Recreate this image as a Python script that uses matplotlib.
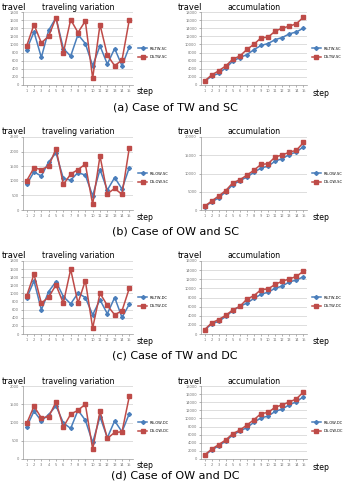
import matplotlib
matplotlib.use("Agg")
import matplotlib.pyplot as plt
import numpy as np

W, H = 349, 482

steps = list(range(1, 16))

# (a) TW and SC
var_a_rs = [875, 1309, 679, 1350, 1661, 900, 712, 1244, 1023, 475, 965, 515, 900, 475, 940]
var_a_ds = [965, 1489, 1039, 1203, 1661, 794, 1612, 1293, 1579, 164, 1489, 736, 475, 614, 1612]
acc_a_rs = [875, 2184, 2863, 4213, 5874, 6774, 7486, 8730, 9753, 10228, 11193, 11708, 12608, 13083, 14023]
acc_a_ds = [965, 2454, 3493, 4696, 6357, 7151, 8763, 10056, 11635, 11799, 13288, 14024, 14499, 15113, 16725]

# (b) OW and SC
var_b_rs = [875, 1306, 1159, 1647, 1954, 1079, 1022, 1284, 1193, 488, 1386, 682, 1113, 716, 1454]
var_b_ds = [1000, 1443, 1386, 1500, 2102, 875, 1227, 1386, 1568, 193, 1852, 557, 738, 534, 2136]
acc_b_rs = [875, 2181, 3340, 4987, 6941, 8020, 9042, 10326, 11519, 12007, 13393, 14075, 15188, 15904, 17358]
acc_b_ds = [1000, 2443, 3829, 5329, 7431, 8306, 9533, 10919, 12487, 12680, 14532, 15089, 15827, 16361, 18497]

# (c) TW and DC
var_c_rs = [883, 1309, 597, 1047, 1292, 924, 744, 1006, 900, 474, 842, 499, 900, 409, 736]
var_c_ds = [940, 1472, 761, 908, 1210, 761, 1595, 761, 1317, 147, 1006, 703, 474, 572, 1129]
acc_c_rs = [883, 2192, 2789, 3836, 5128, 6052, 6796, 7802, 8702, 9176, 10018, 10517, 11417, 11826, 12562]
acc_c_ds = [940, 2412, 3173, 4081, 5291, 6052, 7647, 8408, 9725, 9872, 10878, 11581, 12055, 12627, 13756]

# (d) OW and DC
var_d_rs = [882, 1309, 1045, 1218, 1454, 991, 836, 1336, 1063, 454, 1154, 582, 1045, 745, 1245]
var_d_ds = [973, 1445, 1127, 1154, 1563, 873, 1227, 1336, 1500, 273, 1309, 564, 727, 745, 1718]
acc_d_rs = [882, 2191, 3236, 4454, 5908, 6899, 7735, 9071, 10134, 10588, 11742, 12324, 13369, 14114, 15359]
acc_d_ds = [973, 2418, 3545, 4699, 6262, 7135, 8362, 9698, 11198, 11471, 12780, 13344, 14071, 14816, 16534]

cases = ["TW-SC", "OW-SC", "TW-DC", "OW-DC"]
captions = ["(a) Case of TW and SC", "(b) Case of OW and SC",
            "(c) Case of TW and DC", "(d) Case of OW and DC"]
var_rs = [var_a_rs, var_b_rs, var_c_rs, var_d_rs]
var_ds = [var_a_ds, var_b_ds, var_c_ds, var_d_ds]
acc_rs = [acc_a_rs, acc_b_rs, acc_c_rs, acc_d_rs]
acc_ds = [acc_a_ds, acc_b_ds, acc_c_ds, acc_d_ds]
var_ticks = [(1800, 200), (2500, 500), (1800, 200), (2000, 500)]
acc_ticks = [(18000, 2000), (20000, 5000), (16000, 2000), (18000, 2000)]

row_top = [12, 137, 261, 386]
cap_y = [107, 231, 355, 475]

blue = "#4a7ebb"
red = "#be4b48"


def box(l, t, r, b):
    return [l / W, 1 - b / H, (r - l) / W, (b - t) / H]


def ftext(x, y, s, **kw):
    fig.text(x / W, 1 - y / H, s, **kw)


def draw(ax, rs, ds, top, step, name):
    ax.plot(steps, rs, color=blue, lw=1.1, marker="D", ms=2.0, label="RS-" + name)
    ax.plot(steps, ds, color=red, lw=1.1, marker="s", ms=2.5, label="DS-" + name)
    ax.set_xlim(0.5, 15.5)
    ax.set_ylim(0, top)
    ax.set_yticks(np.arange(0, top + 1, step))
    ax.set_xticks(steps)
    ax.tick_params(labelsize=2.6, colors="#777777", length=1.5, width=0.4, pad=1.5)
    ax.grid(axis="y", color="#d0d0d0", lw=0.5)
    ax.set_axisbelow(True)
    for s in ["top", "right"]:
        ax.spines[s].set_visible(False)
    for s in ["left", "bottom"]:
        ax.spines[s].set_color("#999999")
        ax.spines[s].set_linewidth(0.5)
    ax.legend(loc="center left", bbox_to_anchor=(1.03, 0.44), fontsize=2.6,
              frameon=False, handlelength=2.5, labelspacing=1.2, borderpad=0)


fig = plt.figure(figsize=(W / 100, H / 100), dpi=100)

for i in range(4):
    t = row_top[i]
    b = t + 73
    axl = fig.add_axes(box(23, t, 133, b))
    draw(axl, var_rs[i], var_ds[i], var_ticks[i][0], var_ticks[i][1], cases[i])
    axr = fig.add_axes(box(201, t, 307, b))
    draw(axr, acc_rs[i], acc_ds[i], acc_ticks[i][0], acc_ticks[i][1], cases[i])

    ftext(2, t - 5, "travel", fontsize=6, ha="left", va="center")
    ftext(78, t - 5, "traveling variation", fontsize=5.6, ha="center", va="center")
    ftext(178, t - 5, "travel", fontsize=6, ha="left", va="center")
    ftext(254, t - 5, "accumulation", fontsize=5.6, ha="center", va="center")
    ftext(137, b + 7, "step", fontsize=5.6, ha="left", va="center")
    ftext(313, b + 8, "step", fontsize=5.6, ha="left", va="center")
    ftext(175, cap_y[i], captions[i], fontsize=8, ha="center", va="center")

fig.savefig("out.png", dpi=100)
